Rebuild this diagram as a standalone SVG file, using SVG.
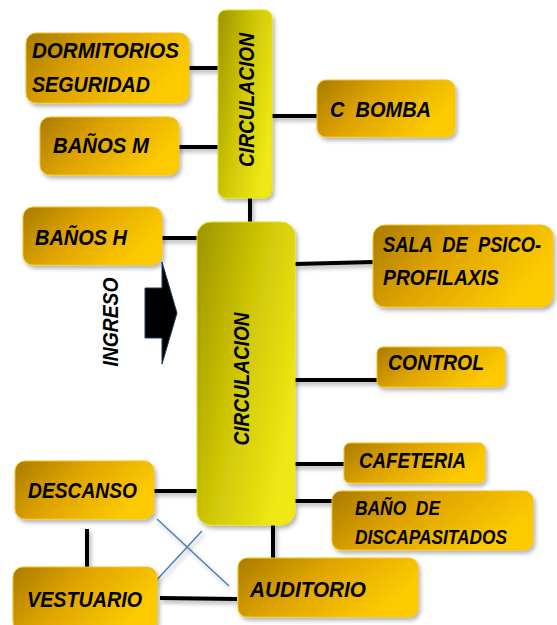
<svg xmlns="http://www.w3.org/2000/svg" width="557" height="625" viewBox="0 0 557 625">
<style>
.box{fill:url(#og);stroke:#f4c31c;stroke-width:1}
.circ{fill:url(#yg);stroke:#e6e010;stroke-width:1}
.t{font-family:"Liberation Sans",Arial,sans-serif;font-weight:bold;font-style:italic;font-size:22px;fill:#000}
.s{font-size:20px}
.ln{stroke:#000;stroke-width:4;fill:none}
.bl{stroke:#4a7ebb;stroke-width:1.5;fill:none}
</style>
<defs>
<linearGradient id="og" x1="0" y1="0" x2="1" y2="0.4">
<stop offset="0" stop-color="#a97b00"/>
<stop offset="0.45" stop-color="#dea300"/>
<stop offset="1" stop-color="#fdca00"/>
</linearGradient>
<linearGradient id="yg" x1="0" y1="0" x2="1" y2="0.6">
<stop offset="0" stop-color="#9c9400"/>
<stop offset="0.5" stop-color="#cdc505"/>
<stop offset="1" stop-color="#efe814"/>
</linearGradient>
<filter id="sh" x="-20%" y="-20%" width="150%" height="150%">
<feDropShadow dx="2" dy="3" stdDeviation="2" flood-color="#000" flood-opacity="0.3"/>
</filter>
</defs>

<g id="connectors" filter="url(#sh)">
<line class="ln" x1="189" y1="68" x2="220" y2="68"/>
<line class="ln" x1="170" y1="147" x2="222" y2="147"/>
<line class="ln" x1="272" y1="116" x2="318" y2="116"/>
<line class="ln" x1="250" y1="198" x2="250" y2="222"/>
<line class="ln" x1="147" y1="238" x2="205" y2="238"/>
<line class="ln" x1="295" y1="264" x2="374" y2="262"/>
<line class="ln" x1="290" y1="380" x2="384" y2="380"/>
<line class="ln" x1="291" y1="464" x2="344" y2="464"/>
<line class="ln" x1="295" y1="501" x2="332" y2="501"/>
<line class="ln" x1="273" y1="525" x2="273" y2="562"/>
<line class="ln" x1="153" y1="491" x2="197" y2="491"/>
<line class="ln" x1="87" y1="529" x2="87" y2="567"/>
<line class="ln" x1="160" y1="598" x2="237" y2="599"/>
<line class="bl" x1="157" y1="519" x2="229" y2="586"/>
<line class="bl" x1="202" y1="531" x2="153" y2="584"/>
</g>

<g id="circulacion-top">
<rect class="circ" x="218" y="10" width="54" height="188" rx="8" filter="url(#sh)"/>
<text class="t" transform="translate(254,100) rotate(-90)" text-anchor="middle" textLength="134" lengthAdjust="spacingAndGlyphs">CIRCULACION</text>
</g>

<g id="circulacion-main">
<rect class="circ" x="197" y="222" width="98" height="303" rx="14" filter="url(#sh)"/>
<text class="t" transform="translate(249,379) rotate(-90)" text-anchor="middle" textLength="133" lengthAdjust="spacingAndGlyphs">CIRCULACION</text>
</g>

<g id="dormitorios">
<rect class="box" x="26" y="33" width="163" height="70" rx="10" filter="url(#sh)"/>
<text class="t" x="32" y="58" textLength="147" lengthAdjust="spacingAndGlyphs">DORMITORIOS</text>
<text class="t" x="32" y="92" textLength="118" lengthAdjust="spacingAndGlyphs">SEGURIDAD</text>
</g>

<g id="banos-m">
<rect class="box" x="40" y="117" width="139" height="58" rx="10" filter="url(#sh)"/>
<text class="t" x="53" y="153" textLength="96" lengthAdjust="spacingAndGlyphs">BAÑOS M</text>
</g>

<g id="c-bomba">
<rect class="box" x="317" y="80" width="138" height="57" rx="9" filter="url(#sh)"/>
<text class="t" x="330" y="117" textLength="101" lengthAdjust="spacingAndGlyphs" xml:space="preserve">C  BOMBA</text>
</g>

<g id="banos-h">
<rect class="box" x="23" y="207" width="139" height="58" rx="10" filter="url(#sh)"/>
<text class="t" x="35" y="245" textLength="92" lengthAdjust="spacingAndGlyphs">BAÑOS H</text>
</g>

<g id="ingreso">
<polygon points="145,288 162,288 162,262 177,313 162,364 162,338 145,338" fill="#000" stroke="#1f3a5f" stroke-width="1"/>
<text class="t" transform="translate(118,322) rotate(-90)" text-anchor="middle" textLength="89" lengthAdjust="spacingAndGlyphs">INGRESO</text>
</g>

<g id="sala-psico">
<rect class="box" x="373" y="225" width="180" height="82" rx="12" filter="url(#sh)"/>
<text class="t" x="383" y="252" textLength="158" lengthAdjust="spacingAndGlyphs" xml:space="preserve">SALA  DE  PSICO-</text>
<text class="t" x="383" y="285" textLength="116" lengthAdjust="spacingAndGlyphs">PROFILAXIS</text>
</g>

<g id="control">
<rect class="box" x="377" y="347" width="128" height="40" rx="6" filter="url(#sh)"/>
<text class="t" x="388" y="370" textLength="96" lengthAdjust="spacingAndGlyphs">CONTROL</text>
</g>

<g id="cafeteria">
<rect class="box" x="344" y="443" width="141" height="40" rx="6" filter="url(#sh)"/>
<text class="t" x="359" y="468" textLength="107" lengthAdjust="spacingAndGlyphs">CAFETERIA</text>
</g>

<g id="bano-discapasitados">
<rect class="box" x="332" y="491" width="201" height="59" rx="9" filter="url(#sh)"/>
<text class="t s" x="355" y="515" textLength="85" lengthAdjust="spacingAndGlyphs" xml:space="preserve">BAÑO  DE</text>
<text class="t s" x="355" y="544" textLength="152" lengthAdjust="spacingAndGlyphs">DISCAPASITADOS</text>
</g>

<g id="auditorio">
<rect class="box" x="238" y="558" width="180" height="59" rx="9" filter="url(#sh)"/>
<text class="t" x="250" y="597" textLength="116" lengthAdjust="spacingAndGlyphs">AUDITORIO</text>
</g>

<g id="descanso">
<rect class="box" x="15" y="461" width="139" height="58" rx="10" filter="url(#sh)"/>
<text class="t" x="28" y="498" textLength="109" lengthAdjust="spacingAndGlyphs">DESCANSO</text>
</g>

<g id="vestuario">
<rect class="box" x="13" y="567" width="144" height="64" rx="10" filter="url(#sh)"/>
<text class="t" x="27" y="607" textLength="115" lengthAdjust="spacingAndGlyphs">VESTUARIO</text>
</g>
</svg>
